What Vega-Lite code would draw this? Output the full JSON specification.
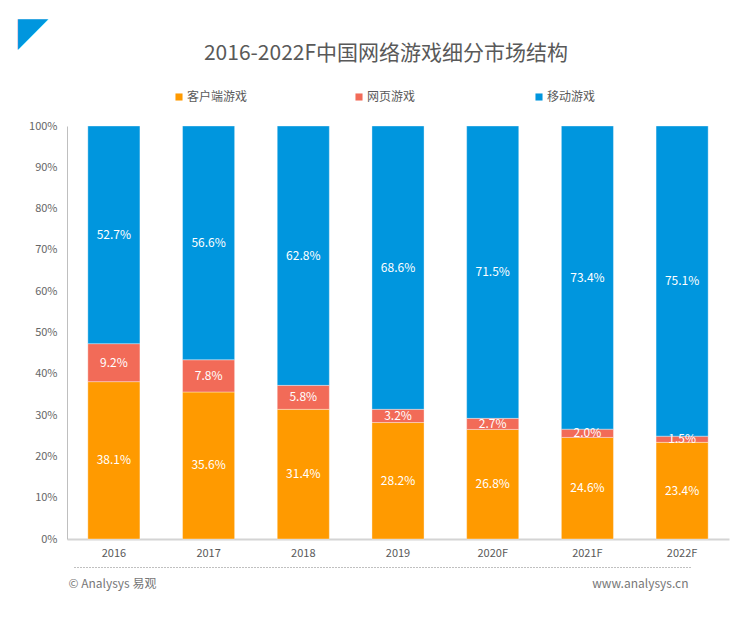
{
  "$schema": "https://vega.github.io/schema/vega-lite/v6.json",
  "width": 662,
  "height": 413,
  "autosize": {"type": "none"},
  "padding": {"left": 67, "top": 126, "right": 20, "bottom": 80},
  "background": "white",
  "title": {
    "text": "2016-2022F中国网络游戏细分市场结构",
    "font": "Noto Sans CJK SC",
    "fontSize": 21,
    "fontWeight": "normal",
    "color": "#595959",
    "anchor": "middle",
    "dx": -12,
    "offset": -52
  },
  "config": {
    "view": {"stroke": null},
    "font": "Noto Sans CJK SC"
  },
  "data": {
    "values": [
      {"year": "2016", "type": "客户端游戏", "k": 1, "share": 0.381},
      {"year": "2016", "type": "网页游戏", "k": 2, "share": 0.092},
      {"year": "2016", "type": "移动游戏", "k": 3, "share": 0.527},
      {"year": "2017", "type": "客户端游戏", "k": 1, "share": 0.356},
      {"year": "2017", "type": "网页游戏", "k": 2, "share": 0.078},
      {"year": "2017", "type": "移动游戏", "k": 3, "share": 0.566},
      {"year": "2018", "type": "客户端游戏", "k": 1, "share": 0.314},
      {"year": "2018", "type": "网页游戏", "k": 2, "share": 0.058},
      {"year": "2018", "type": "移动游戏", "k": 3, "share": 0.628},
      {"year": "2019", "type": "客户端游戏", "k": 1, "share": 0.282},
      {"year": "2019", "type": "网页游戏", "k": 2, "share": 0.032},
      {"year": "2019", "type": "移动游戏", "k": 3, "share": 0.686},
      {"year": "2020F", "type": "客户端游戏", "k": 1, "share": 0.268},
      {"year": "2020F", "type": "网页游戏", "k": 2, "share": 0.027},
      {"year": "2020F", "type": "移动游戏", "k": 3, "share": 0.715},
      {"year": "2021F", "type": "客户端游戏", "k": 1, "share": 0.246},
      {"year": "2021F", "type": "网页游戏", "k": 2, "share": 0.020},
      {"year": "2021F", "type": "移动游戏", "k": 3, "share": 0.734},
      {"year": "2022F", "type": "客户端游戏", "k": 1, "share": 0.234},
      {"year": "2022F", "type": "网页游戏", "k": 2, "share": 0.015},
      {"year": "2022F", "type": "移动游戏", "k": 3, "share": 0.751}
    ]
  },
  "layer": [
    {
      "layer": [
        {
          "mark": {"type": "bar", "stroke": "#ffffff", "strokeWidth": 0.6, "strokeOpacity": 0.6},
          "encoding": {
            "x": {
              "field": "year",
              "type": "ordinal",
              "scale": {"paddingInner": 0.45, "paddingOuter": 0.22},
              "axis": {
                "labelAngle": 0,
                "labelFontSize": 11,
                "labelColor": "#595959",
                "labelPadding": 8,
                "ticks": false,
                "domainColor": "#d4d4d4",
                "domainWidth": 2,
                "title": "www.analysys.cn",
                "titleFontSize": 12,
                "titleFontWeight": "normal",
                "titleColor": "#777777",
                "titleX": 621,
                "titleY": 44,
                "titleAlign": "right",
                "titleBaseline": "middle"
              }
            },
            "y": {
              "field": "share",
              "type": "quantitative",
              "stack": "normalize",
              "scale": {"domain": [0, 1]},
              "axis": {
                "format": ".0%",
                "values": [0, 0.1, 0.2, 0.3, 0.4, 0.5, 0.6, 0.7, 0.8, 0.9, 1],
                "grid": false,
                "ticks": false,
                "labelFontSize": 11,
                "labelColor": "#666666",
                "labelPadding": 10,
                "domainColor": "#bfbfbf",
                "title": "◤",
                "titleFont": "DejaVu Sans",
                "titleFontSize": 40,
                "titleFontWeight": "normal",
                "titleColor": "#0096de",
                "titleAngle": 0,
                "titleX": -50,
                "titleY": -114,
                "titleAlign": "left",
                "titleBaseline": "top"
              }
            },
            "color": {
              "field": "type",
              "type": "nominal",
              "scale": {
                "domain": ["客户端游戏", "网页游戏", "移动游戏"],
                "range": ["#ff9a00", "#f26b58", "#0096de"]
              },
              "legend": {
                "orient": "none",
                "legendX": 106,
                "legendY": -35,
                "direction": "horizontal",
                "columns": 3,
                "gridAlign": "all",
                "columnPadding": 105,
                "symbolType": "square",
                "symbolSize": 50,
                "symbolStrokeWidth": 0,
                "labelFontSize": 12,
                "labelColor": "#595959",
                "labelOffset": 2,
                "title": null
              }
            },
            "order": {"field": "k", "type": "quantitative"}
          }
        },
        {
          "mark": {"type": "text", "color": "#ffffff", "fontSize": 12},
          "encoding": {
            "x": {"field": "year", "type": "ordinal"},
            "y": {"field": "share", "type": "quantitative", "stack": "normalize", "bandPosition": 0.5},
            "detail": {"field": "type"},
            "order": {"field": "k", "type": "quantitative"},
            "text": {"field": "share", "type": "quantitative", "format": ".1%"}
          }
        }
      ]
    },
    {
      "data": {"values": [{"p": 0}, {"p": 1}]},
      "mark": {"type": "point", "opacity": 0},
      "encoding": {
        "x": {
          "field": "p",
          "type": "quantitative",
          "scale": {"domain": [0, 1], "range": [7, 625]},
          "axis": {
            "orient": "bottom",
            "offset": 28,
            "domainDash": [1, 2],
            "domainColor": "#808080",
            "domainWidth": 1,
            "ticks": false,
            "labels": false,
            "grid": false,
            "title": "© Analysys 易观",
            "titleFontSize": 12,
            "titleFontWeight": "normal",
            "titleColor": "#777777",
            "titleX": 1,
            "titleY": 16,
            "titleAlign": "left",
            "titleBaseline": "middle"
          }
        }
      }
    }
  ],
  "resolve": {"scale": {"x": "independent"}}
}
